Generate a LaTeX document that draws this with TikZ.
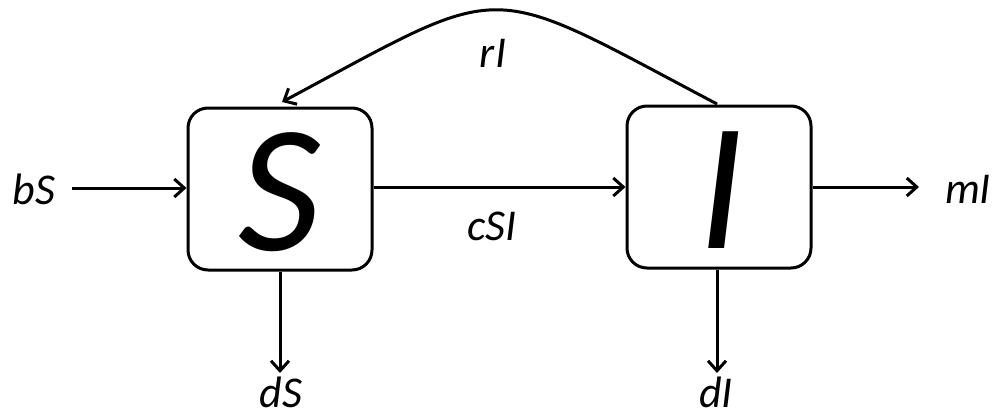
\documentclass[tikz,border=0pt]{standalone}
\usepackage{fontspec}
\setmainfont{Carlito}
\usetikzlibrary{arrows.meta}
\begin{document}
\begin{tikzpicture}[x=1pt,y=-1pt,
  box/.style={draw,line width=3pt,rounded corners=20pt,minimum width=184pt,minimum height=162pt,inner sep=0pt},
  big/.style={font=\fontsize{182}{190}\selectfont\itshape,inner sep=0pt},
  lbl/.style={font=\fontsize{44}{48}\selectfont\itshape,inner sep=0pt},
  flow/.style={line width=3pt,-{Straight Barb[length=10pt,width=18pt,line width=3pt]}}]
\useasboundingbox (0,0) rectangle (1000,415);
\node[box] (S) at (280,189) {};
\node[big] (Sl) at (280,192) {S};
\node[box] (I) at (719,187) {};
\node[big] (Il) at (721,190) {I};
\node[lbl] (bS) at (34,189) {bS};
\node[lbl] (mI) at (968,189) {mI};
\node[lbl] (cSI) at (492,226) {cSI};
\node[lbl] (rI) at (493,53) {rI};
\node[lbl] (dS) at (281,392) {dS};
\node[lbl] (dI) at (716,392) {dI};
\coordinate (bSe) at (72,188);
\coordinate (mIe) at (919,187);
\coordinate (dSe) at (280,373);
\coordinate (dIe) at (717,373);
\coordinate (rIe) at (282,102);
\coordinate (rIs) at (717,104);
\draw[flow] (bSe) -- (bSe -| S.west);
\draw[flow] (S.east |- 0,187) -- (I.west);
\draw[flow] (I.east) -- (mIe);
\draw[flow] (S.south -| dSe) -- (dSe);
\draw[flow] (I.south -| dIe) -- (dIe);
\draw[flow] (rIs) .. controls (480,-21) and (512,-21) .. (rIe);
\end{tikzpicture}
\end{document}
